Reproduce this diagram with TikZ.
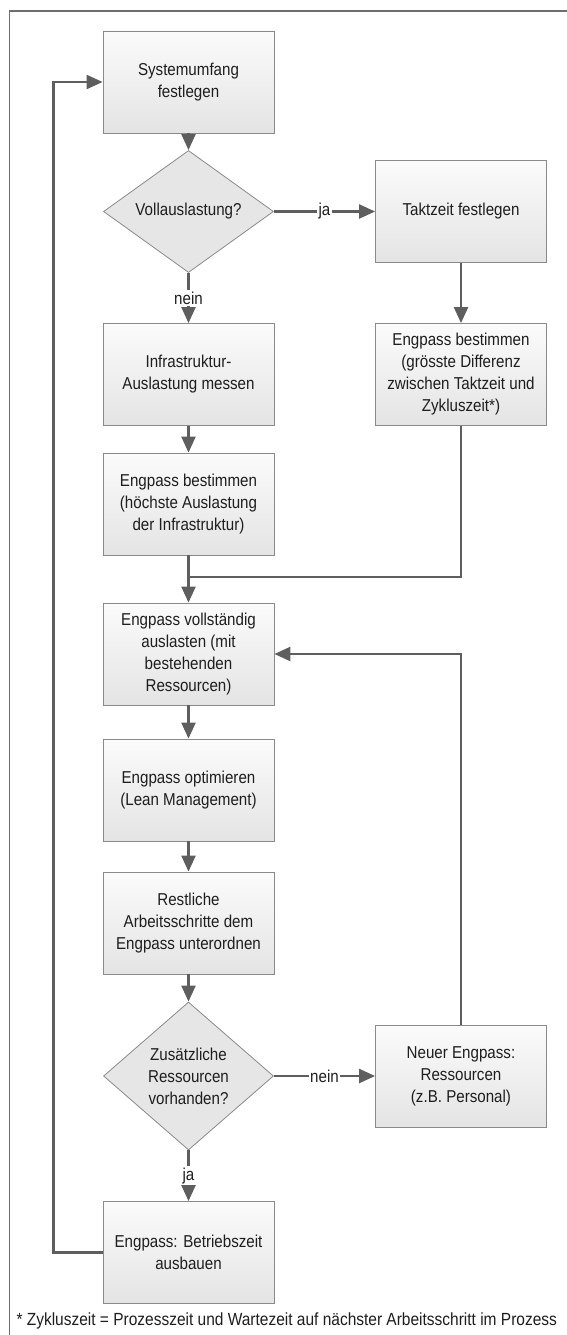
\documentclass[tikz,border=0pt]{standalone}
\usepackage{fontspec}
\setmainfont{Liberation Sans}[FakeStretch=0.88]
\usepackage{xcolor}
\usetikzlibrary{
    arrows.meta,
    shapes.geometric
}
\definecolor{linegray}{HTML}{5E5E5E}
\definecolor{edgegray}{HTML}{8A8A8A}
\definecolor{boxtop}{HTML}{FBFBFB}
\definecolor{boxbottom}{HTML}{E4E4E4}
\definecolor{diafill}{HTML}{E6E6E6}
\definecolor{framegray}{HTML}{6E6E6E}
\definecolor{textgray}{HTML}{1E1E1E}

\begin{document}
\begin{tikzpicture}[x=1pt, y=-1pt,
    every node/.style={font=\fontsize{17.2}{22}\selectfont, text=textgray},
    stepbox/.style={rectangle, draw=edgegray, line width=0.8pt, top color=boxtop, bottom color=boxbottom,
        minimum width=171pt, minimum height=102pt, inner sep=0pt, align=center},
    decision/.style={diamond, draw=edgegray, line width=0.8pt, fill=diafill,
        minimum width=170pt, inner sep=0pt, align=center},
    flow/.style={draw=linegray, line width=2.2pt, -{Triangle[length=16pt, width=14pt]}},
    conn/.style={draw=linegray, line width=2.2pt},
    branch/.style={fill=white, inner sep=1.5pt}
]
    \useasboundingbox (0, 0) rectangle (566, 1335);
    \draw[framegray, line width=1.5pt] (9.5, 1345) -- (9.5, 11) -- (576, 11);

    \begin{scope}[shift={(188.5, 0)}]
        \node[stepbox] (sys) at (0, 82) {Systemumfang\\festlegen};
        \node[decision, minimum height=101pt] (full) at (0, 211.5) {Vollauslastung?};
        \node[stepbox] (infra) at (0, 374.5) {Infrastruktur-\\Auslastung messen};
        \node[stepbox] (peak) at (0, 504) {Engpass bestimmen\\(höchste Auslastung\\der Infrastruktur)};
        \coordinate (merge) at (0, 577);
        \node[stepbox] (load) at (0, 654) {Engpass vollständig\\auslasten (mit\\bestehenden\\Ressourcen)};
        \node[stepbox] (lean) at (0, 790) {Engpass optimieren\\(Lean Management)};
        \node[stepbox] (rest) at (0, 923) {Restliche\\Arbeitsschritte dem\\Engpass unterordnen};
        \node[decision, minimum height=148pt] (extra) at (0, 1076) {Zusätzliche\\Ressourcen\\vorhanden?};
        \node[stepbox] (hours) at (0, 1252.5) {Engpass: Betriebszeit\\ausbauen};
        \coordinate (back) at (-135, 1252.5);
    \end{scope}

    \begin{scope}[shift={(461, 0)}]
        \node[stepbox] (takt) at (0, 211.5) {Taktzeit festlegen};
        \node[stepbox] (gap) at (0, 374.5) {Engpass bestimmen\\(grösste Differenz\\zwischen Taktzeit und\\Zykluszeit*)};
        \node[stepbox] (staff) at (0, 1076) {Neuer Engpass:\\Ressourcen\\(z.B. Personal)};
    \end{scope}

    \node[anchor=west, font=\fontsize{17.6}{20}\selectfont] (note) at (13, 1321)
        {* Zykluszeit = Prozesszeit und Wartezeit auf nächster Arbeitsschritt im Prozess};

    \draw[flow] (sys) -- (full);
    \draw[flow] (full) -- node[branch] {ja} (takt);
    \draw[flow] (full) -- node[branch] {nein} (infra);
    \draw[flow] (infra) -- (peak);
    \draw[flow] (takt) -- (gap);
    \draw[flow] (peak) -- (load);
    \draw[conn] (gap.south) |- (merge);
    \draw[flow] (load) -- (lean);
    \draw[flow] (lean) -- (rest);
    \draw[flow] (rest) -- (extra);
    \draw[flow] (extra) -- node[branch] {nein} (staff);
    \draw[flow] (extra) -- node[branch] {ja} (hours);
    \draw[flow] (staff.north) |- (load.east);
    \draw[flow] (hours.west) -- (back) |- (sys.west);
\end{tikzpicture}
\end{document}
